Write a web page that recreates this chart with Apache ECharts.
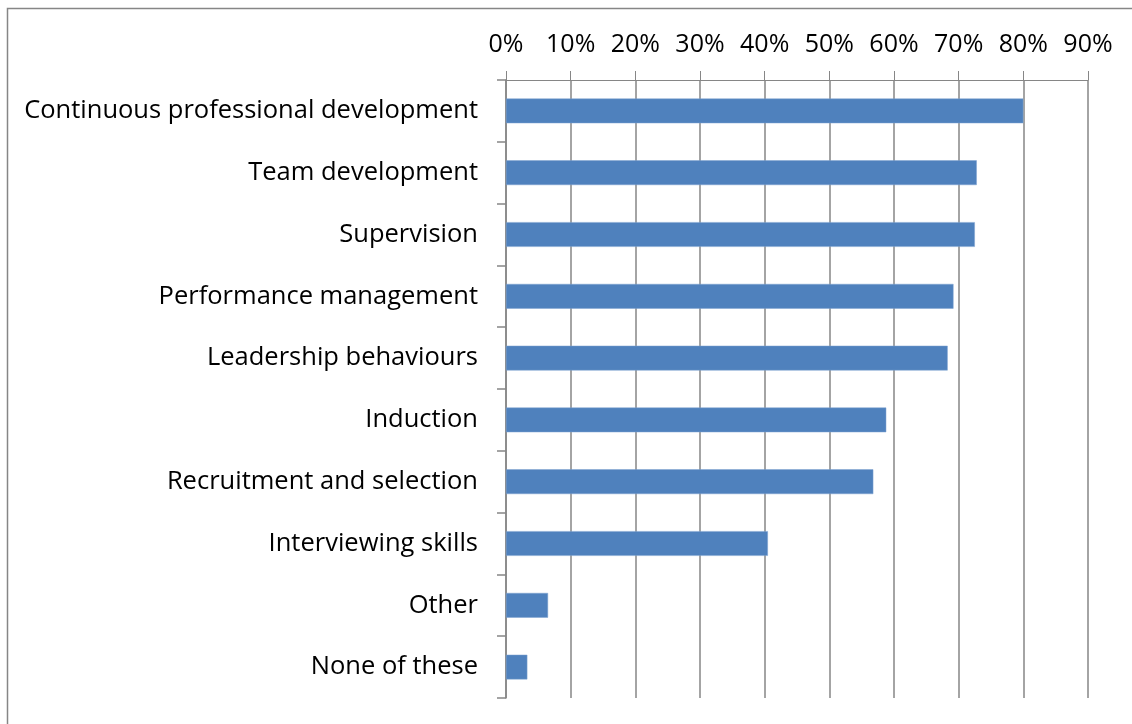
<!DOCTYPE html>
<html>
<head>
<meta charset="utf-8">
<script src="https://cdn.jsdelivr.net/npm/echarts@6/dist/echarts.min.js"></script>
<style>
  html, body { margin: 0; padding: 0; background: #fff; }
  #chart { width: 1132px; height: 724px; }
</style>
</head>
<body>
<div id="chart"></div>
<script>
// Training areas, listed top to bottom
const categories = [
  'Continuous professional development',
  'Team development',
  'Supervision',
  'Performance management',
  'Leadership behaviours',
  'Induction',
  'Recruitment and selection',
  'Interviewing skills',
  'Other',
  'None of these'
];
// Share of respondents (fraction of 1)
const shares = [0.80, 0.728, 0.725, 0.692, 0.683, 0.588, 0.568, 0.405, 0.065, 0.033];
// Axis range and step for the percentage scale
const axisMax = 0.9;
const axisStep = 0.1;

const axisGray = '#868686';
const font = '"Open Sans", Calibri, sans-serif';

const chart = echarts.init(document.getElementById('chart'), null, { renderer: 'canvas' });
chart.setOption({
  animation: false,
  backgroundColor: '#ffffff',
  graphic: [{
    type: 'rect',
    shape: { x: 7.5, y: 8.5, width: 1150, height: 740 },
    style: { fill: 'none', stroke: axisGray, lineWidth: 1.5 },
    silent: true
  }],
  grid: { left: 506, top: 80, right: 44, bottom: 26, containLabel: false },
  xAxis: {
    type: 'value',
    position: 'top',
    min: 0,
    max: axisMax,
    interval: axisStep,
    axisLine: { show: true, lineStyle: { color: axisGray, width: 1 } },
    axisTick: { show: true, inside: false, length: 9, lineStyle: { color: axisGray, width: 1 } },
    splitLine: { show: true, lineStyle: { color: axisGray, width: 1.5 } },
    axisLabel: {
      margin: 23,
      fontSize: 25,
      fontFamily: font,
      color: '#000',
      formatter: v => Math.round(v * 100) + '%'
    }
  },
  yAxis: {
    type: 'category',
    inverse: true,
    data: categories,
    axisLine: { show: true, lineStyle: { color: axisGray, width: 1.5 } },
    axisTick: { show: true, inside: false, length: 9, lineStyle: { color: axisGray, width: 1.5 } },
    splitLine: { show: false },
    axisLabel: {
      margin: 28,
      fontSize: 25.5,
      fontFamily: font,
      color: '#000'
    }
  },
  series: [{
    type: 'bar',
    data: shares,
    barWidth: '40%',
    itemStyle: { color: '#4F81BD', borderColor: '#7ea3d0', borderWidth: 0.5 }
  }]
});
</script>
</body>
</html>
